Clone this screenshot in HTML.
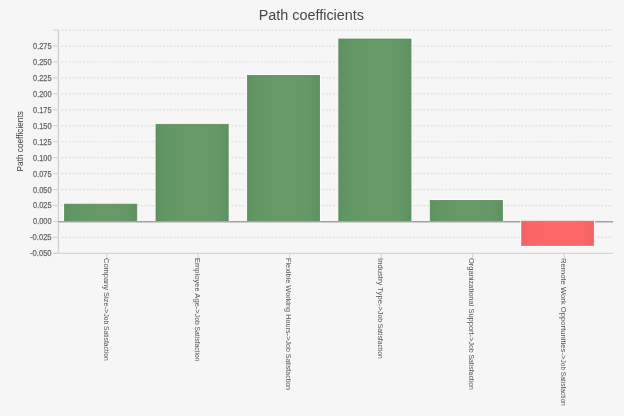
<!DOCTYPE html><html><head><meta charset="utf-8"><style>
html,body{margin:0;padding:0;background:#f6f6f6;}
svg{display:block;will-change:transform;}
text{font-family:"Liberation Sans",sans-serif;}
</style></head><body>
<svg width="624" height="416" viewBox="0 0 624 416">
<defs>
<linearGradient id="gg" x1="0" x2="1" y1="0" y2="0">
<stop offset="0" stop-color="#5d9160"/><stop offset="0.12" stop-color="#629663"/><stop offset="0.5" stop-color="#679a67"/><stop offset="0.85" stop-color="#659866"/><stop offset="1" stop-color="#5d9160"/>
</linearGradient>
<linearGradient id="rg" x1="0" x2="1" y1="0" y2="0">
<stop offset="0" stop-color="#f46262"/><stop offset="0.12" stop-color="#fb6565"/><stop offset="0.5" stop-color="#ff6767"/><stop offset="0.85" stop-color="#fc6666"/><stop offset="1" stop-color="#f16262"/>
</linearGradient>
</defs>
<rect x="0" y="0" width="624" height="416" fill="#f6f6f6"/>

<line x1="61.3" x2="612.5" y1="30.10" y2="30.10" stroke="#dedede" stroke-width="1.2" stroke-dasharray="2 1.622"/>
<line x1="61.3" x2="612.5" y1="46.05" y2="46.05" stroke="#dedede" stroke-width="1.2" stroke-dasharray="2 1.622"/>
<line x1="61.3" x2="612.5" y1="62.00" y2="62.00" stroke="#dedede" stroke-width="1.2" stroke-dasharray="2 1.622"/>
<line x1="61.3" x2="612.5" y1="77.95" y2="77.95" stroke="#dedede" stroke-width="1.2" stroke-dasharray="2 1.622"/>
<line x1="61.3" x2="612.5" y1="93.90" y2="93.90" stroke="#dedede" stroke-width="1.2" stroke-dasharray="2 1.622"/>
<line x1="61.3" x2="612.5" y1="109.85" y2="109.85" stroke="#dedede" stroke-width="1.2" stroke-dasharray="2 1.622"/>
<line x1="61.3" x2="612.5" y1="125.80" y2="125.80" stroke="#dedede" stroke-width="1.2" stroke-dasharray="2 1.622"/>
<line x1="61.3" x2="612.5" y1="141.75" y2="141.75" stroke="#dedede" stroke-width="1.2" stroke-dasharray="2 1.622"/>
<line x1="61.3" x2="612.5" y1="157.70" y2="157.70" stroke="#dedede" stroke-width="1.2" stroke-dasharray="2 1.622"/>
<line x1="61.3" x2="612.5" y1="173.65" y2="173.65" stroke="#dedede" stroke-width="1.2" stroke-dasharray="2 1.622"/>
<line x1="61.3" x2="612.5" y1="189.60" y2="189.60" stroke="#dedede" stroke-width="1.2" stroke-dasharray="2 1.622"/>
<line x1="61.3" x2="612.5" y1="205.55" y2="205.55" stroke="#dedede" stroke-width="1.2" stroke-dasharray="2 1.622"/>
<line x1="61.3" x2="612.5" y1="237.45" y2="237.45" stroke="#dedede" stroke-width="1.2" stroke-dasharray="2 1.622"/>
<line x1="53" x2="58.5" y1="30.10" y2="30.10" stroke="#d6d6d6" stroke-width="1.2"/>
<line x1="53" x2="58.5" y1="46.05" y2="46.05" stroke="#d6d6d6" stroke-width="1.2"/>
<text x="51.6" y="48.95" font-size="8.5" fill="#666" stroke="#666" stroke-width="0.25" text-anchor="end" textLength="18.6" lengthAdjust="spacingAndGlyphs">0.275</text>
<line x1="53" x2="58.5" y1="62.00" y2="62.00" stroke="#d6d6d6" stroke-width="1.2"/>
<text x="51.6" y="64.90" font-size="8.5" fill="#666" stroke="#666" stroke-width="0.25" text-anchor="end" textLength="18.6" lengthAdjust="spacingAndGlyphs">0.250</text>
<line x1="53" x2="58.5" y1="77.95" y2="77.95" stroke="#d6d6d6" stroke-width="1.2"/>
<text x="51.6" y="80.85" font-size="8.5" fill="#666" stroke="#666" stroke-width="0.25" text-anchor="end" textLength="18.6" lengthAdjust="spacingAndGlyphs">0.225</text>
<line x1="53" x2="58.5" y1="93.90" y2="93.90" stroke="#d6d6d6" stroke-width="1.2"/>
<text x="51.6" y="96.80" font-size="8.5" fill="#666" stroke="#666" stroke-width="0.25" text-anchor="end" textLength="18.6" lengthAdjust="spacingAndGlyphs">0.200</text>
<line x1="53" x2="58.5" y1="109.85" y2="109.85" stroke="#d6d6d6" stroke-width="1.2"/>
<text x="51.6" y="112.75" font-size="8.5" fill="#666" stroke="#666" stroke-width="0.25" text-anchor="end" textLength="18.6" lengthAdjust="spacingAndGlyphs">0.175</text>
<line x1="53" x2="58.5" y1="125.80" y2="125.80" stroke="#d6d6d6" stroke-width="1.2"/>
<text x="51.6" y="128.70" font-size="8.5" fill="#666" stroke="#666" stroke-width="0.25" text-anchor="end" textLength="18.6" lengthAdjust="spacingAndGlyphs">0.150</text>
<line x1="53" x2="58.5" y1="141.75" y2="141.75" stroke="#d6d6d6" stroke-width="1.2"/>
<text x="51.6" y="144.65" font-size="8.5" fill="#666" stroke="#666" stroke-width="0.25" text-anchor="end" textLength="18.6" lengthAdjust="spacingAndGlyphs">0.125</text>
<line x1="53" x2="58.5" y1="157.70" y2="157.70" stroke="#d6d6d6" stroke-width="1.2"/>
<text x="51.6" y="160.60" font-size="8.5" fill="#666" stroke="#666" stroke-width="0.25" text-anchor="end" textLength="18.6" lengthAdjust="spacingAndGlyphs">0.100</text>
<line x1="53" x2="58.5" y1="173.65" y2="173.65" stroke="#d6d6d6" stroke-width="1.2"/>
<text x="51.6" y="176.55" font-size="8.5" fill="#666" stroke="#666" stroke-width="0.25" text-anchor="end" textLength="18.6" lengthAdjust="spacingAndGlyphs">0.075</text>
<line x1="53" x2="58.5" y1="189.60" y2="189.60" stroke="#d6d6d6" stroke-width="1.2"/>
<text x="51.6" y="192.50" font-size="8.5" fill="#666" stroke="#666" stroke-width="0.25" text-anchor="end" textLength="18.6" lengthAdjust="spacingAndGlyphs">0.050</text>
<line x1="53" x2="58.5" y1="205.55" y2="205.55" stroke="#d6d6d6" stroke-width="1.2"/>
<text x="51.6" y="208.45" font-size="8.5" fill="#666" stroke="#666" stroke-width="0.25" text-anchor="end" textLength="18.6" lengthAdjust="spacingAndGlyphs">0.025</text>
<line x1="53" x2="58.5" y1="221.50" y2="221.50" stroke="#d6d6d6" stroke-width="1.2"/>
<text x="51.6" y="224.40" font-size="8.5" fill="#666" stroke="#666" stroke-width="0.25" text-anchor="end" textLength="18.6" lengthAdjust="spacingAndGlyphs">0.000</text>
<line x1="53" x2="58.5" y1="237.45" y2="237.45" stroke="#d6d6d6" stroke-width="1.2"/>
<text x="51.6" y="240.35" font-size="8.5" fill="#666" stroke="#666" stroke-width="0.25" text-anchor="end" textLength="21.5" lengthAdjust="spacingAndGlyphs">-0.025</text>
<line x1="53" x2="58.5" y1="253.40" y2="253.40" stroke="#d6d6d6" stroke-width="1.2"/>
<text x="51.6" y="256.30" font-size="8.5" fill="#666" stroke="#666" stroke-width="0.25" text-anchor="end" textLength="21.5" lengthAdjust="spacingAndGlyphs">-0.050</text>
<line x1="58.4" x2="58.4" y1="30.10" y2="253.40" stroke="#d3d3d3" stroke-width="1.4"/>
<line x1="53" x2="613" y1="253.40" y2="253.40" stroke="#d6d6d6" stroke-width="1.4"/>
<rect x="63.40" y="202.95" width="74.60" height="18.55" fill="#fdfdfd"/>
<rect x="64.60" y="204.15" width="72.2" height="17.35" fill="url(#gg)" stroke="#5a8e5c" stroke-width="0.8"/>
<rect x="154.80" y="123.10" width="74.60" height="98.40" fill="#fdfdfd"/>
<rect x="156.00" y="124.30" width="72.2" height="97.20" fill="url(#gg)" stroke="#5a8e5c" stroke-width="0.8"/>
<rect x="246.20" y="74.20" width="74.60" height="147.30" fill="#fdfdfd"/>
<rect x="247.40" y="75.40" width="72.2" height="146.10" fill="url(#gg)" stroke="#5a8e5c" stroke-width="0.8"/>
<rect x="337.60" y="37.80" width="74.60" height="183.70" fill="#fdfdfd"/>
<rect x="338.80" y="39.00" width="72.2" height="182.50" fill="url(#gg)" stroke="#5a8e5c" stroke-width="0.8"/>
<rect x="429.00" y="199.20" width="74.60" height="22.30" fill="#fdfdfd"/>
<rect x="430.20" y="200.40" width="72.2" height="21.10" fill="url(#gg)" stroke="#5a8e5c" stroke-width="0.8"/>
<line x1="58.4" x2="613" y1="221.70" y2="221.70" stroke="#a4a4a4" stroke-width="1.6"/>
<rect x="520.40" y="220.90" width="74.60" height="25.70" fill="#fdfdfd"/>
<rect x="521.60" y="221.10" width="72.2" height="24.50" fill="url(#rg)" stroke="#f26262" stroke-width="0.6"/>
<line x1="106.70" x2="106.70" y1="253.40" y2="257.90" stroke="#d6d6d6" stroke-width="1.2"/>
<g transform="translate(103.50,0) rotate(90)" font-size="7.8" fill="#555">
<text x="258.0" y="0" textLength="55.40" lengthAdjust="spacingAndGlyphs">Company Size-&gt;</text>
<text x="313.40" y="0" textLength="47.30" lengthAdjust="spacingAndGlyphs">Job Satisfaction</text>
</g>
<line x1="198.18" x2="198.18" y1="253.40" y2="257.90" stroke="#d6d6d6" stroke-width="1.2"/>
<g transform="translate(194.98,0) rotate(90)" font-size="7.8" fill="#555">
<text x="258.0" y="0" textLength="55.80" lengthAdjust="spacingAndGlyphs">Employee Age-&gt;</text>
<text x="313.80" y="0" textLength="47.60" lengthAdjust="spacingAndGlyphs">Job Satisfaction</text>
</g>
<line x1="289.66" x2="289.66" y1="253.40" y2="257.90" stroke="#d6d6d6" stroke-width="1.2"/>
<g transform="translate(286.46,0) rotate(90)" font-size="7.8" fill="#555">
<text x="258.0" y="0" textLength="82.50" lengthAdjust="spacingAndGlyphs">Flexible Working Hours-&gt;</text>
<text x="340.50" y="0" textLength="49.50" lengthAdjust="spacingAndGlyphs">Job Satisfaction</text>
</g>
<line x1="381.14" x2="381.14" y1="253.40" y2="257.90" stroke="#d6d6d6" stroke-width="1.2"/>
<g transform="translate(377.94,0) rotate(90)" font-size="7.8" fill="#555">
<text x="258.0" y="0" textLength="53.00" lengthAdjust="spacingAndGlyphs">Industry Type-&gt;</text>
<text x="311.00" y="0" textLength="47.80" lengthAdjust="spacingAndGlyphs">Job Satisfaction</text>
</g>
<line x1="472.62" x2="472.62" y1="253.40" y2="257.90" stroke="#d6d6d6" stroke-width="1.2"/>
<g transform="translate(469.42,0) rotate(90)" font-size="7.8" fill="#555">
<text x="258.0" y="0" textLength="83.50" lengthAdjust="spacingAndGlyphs">Organizational Support-&gt;</text>
<text x="341.50" y="0" textLength="48.40" lengthAdjust="spacingAndGlyphs">Job Satisfaction</text>
</g>
<line x1="564.10" x2="564.10" y1="253.40" y2="257.90" stroke="#d6d6d6" stroke-width="1.2"/>
<g transform="translate(560.90,0) rotate(90)" font-size="7.8" fill="#555">
<text x="258.0" y="0" textLength="101.50" lengthAdjust="spacingAndGlyphs">Remote Work Opportunities-&gt;</text>
<text x="359.50" y="0" textLength="46.20" lengthAdjust="spacingAndGlyphs">Job Satisfaction</text>
</g>
<text x="258.7" y="19.5" font-size="13.8" fill="#474747" textLength="105.3" lengthAdjust="spacingAndGlyphs">Path coefficients</text>
<text transform="translate(22.5,171.4) rotate(-90)" font-size="9.6" fill="#3a3a3a" textLength="60.2" lengthAdjust="spacingAndGlyphs">Path coefficients</text>
</svg></body></html>
